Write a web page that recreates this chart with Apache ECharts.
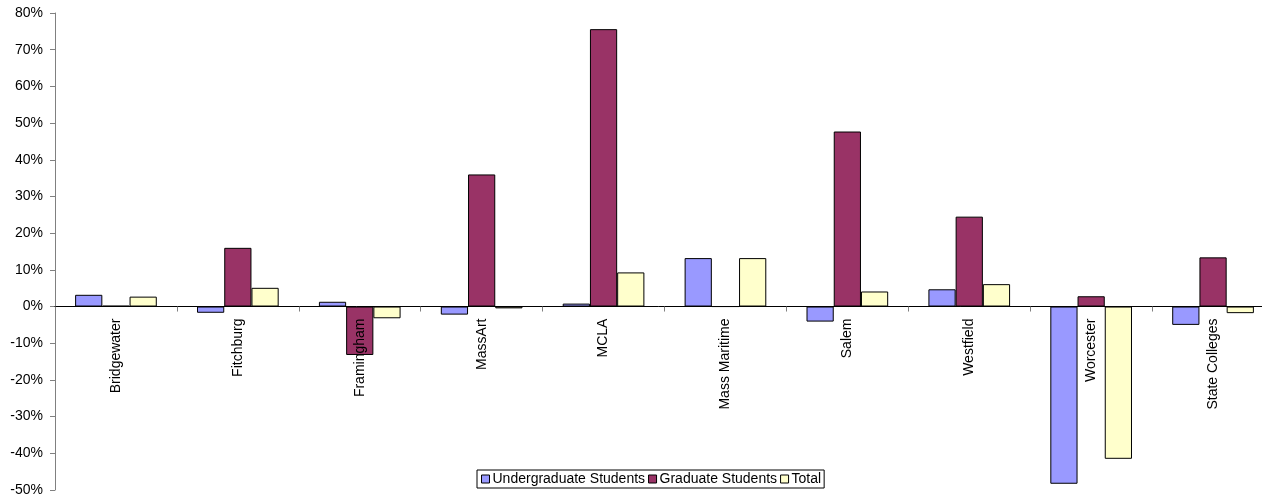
<!DOCTYPE html>
<html><head><meta charset="utf-8">
<script src="https://cdn.jsdelivr.net/npm/echarts@6/dist/echarts.min.js"></script>
<style>html,body{margin:0;padding:0;background:#fff}#c{width:1262px;height:497px}</style>
</head><body><div id="c"></div>
<script>
const categories = ['Bridgewater','Fitchburg','Framingham','MassArt','MCLA','Mass Maritime','Salem','Westfield','Worcester','State Colleges'];
const undergrad = [3.2, -1.7, 1.3, -2.2, 0.8, 13.2, -4.1, 4.7, -48.3, -5.0];
const graduate  = [0.2, 16.0, -13.2, 36.0, 75.6, 0.0, 47.7, 24.5, 2.8, 13.4];
const total     = [2.7, 5.1, -3.2, -0.5, 9.3, 13.2, 4.1, 6.1, -41.5, -1.8];
const seriesNames = ['Undergraduate Students','Graduate Students','Total'];
const colors = ['#9999FF','#993366','#FFFFCC'];

const chart = echarts.init(document.getElementById('c'), null, {renderer:'canvas'});
const font = 'Arial, "Liberation Sans", sans-serif';
function bar(name, data, color){
  return {name, type:'bar', data, barGap:'0%', barCategoryGap:'33%', z:2,
    itemStyle:{color, borderColor:'#000', borderWidth:1}};
}
const option = {
  animation:false,
  textStyle:{fontFamily:font},
  color:colors,
  grid:{left:55, right:-12, top:13, bottom:7, containLabel:false, outerBoundsMode:'none'},
  legend:{left:477, top:470, orient:'horizontal', itemWidth:8, itemHeight:8, itemGap:3,
    borderColor:'#000', borderWidth:1, padding:[2,3,2,4],
    textStyle:{fontFamily:font, fontSize:14, color:'#000', padding:[0,0,0,-2]},
    icon:'rect', itemStyle:{borderColor:'#000', borderWidth:1},
    data:seriesNames},
  xAxis:{type:'category', data:categories, z:10,
    axisLine:{onZero:true, lineStyle:{color:'#000', width:1}},
    axisTick:{show:true, length:5, inside:false, lineStyle:{color:'#808080'}},
    axisLabel:{rotate:90, fontSize:14, color:'#000', fontFamily:font, margin:12, interval:0},
    splitLine:{show:false}},
  yAxis:{type:'value', min:-50, max:80, interval:10,
    axisLine:{show:true, lineStyle:{color:'#808080'}},
    axisTick:{show:true, length:5, lineStyle:{color:'#808080'}},
    axisLabel:{formatter:v=>v+'%', fontSize:14, color:'#000', fontFamily:font, margin:12},
    splitLine:{show:false}},
  series:[bar(seriesNames[0], undergrad, colors[0]), bar(seriesNames[1], graduate, colors[1]), bar(seriesNames[2], total, colors[2])]
};
chart.setOption(option);
// move category labels up to the zero line
const y0 = chart.convertToPixel({yAxisIndex:0}, 0);
const yMin = chart.convertToPixel({yAxisIndex:0}, option.yAxis.min);
chart.setOption({xAxis:{axisLabel:{margin: 12 - (yMin - y0)}}});
</script></body></html>
